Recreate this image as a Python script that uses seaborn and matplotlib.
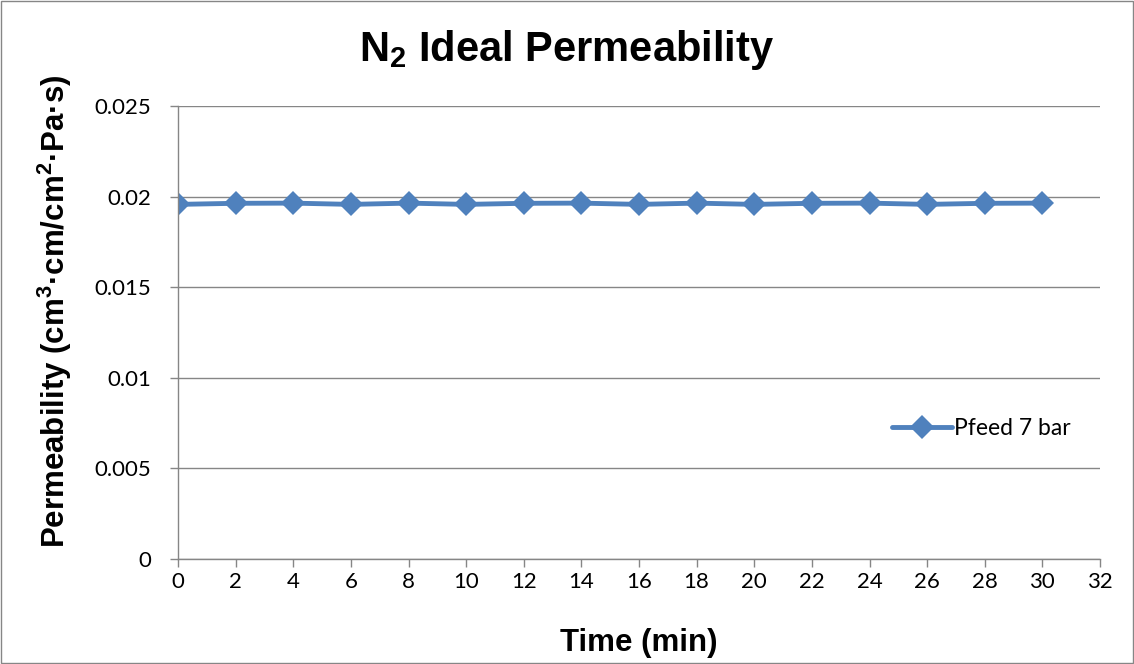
import matplotlib
matplotlib.use("Agg")
import matplotlib.pyplot as plt
import seaborn as sns
import pandas as pd

time_min = [0, 2, 4, 6, 8, 10, 12, 14, 16, 18, 20, 22, 24, 26, 28, 30]
permeability = [0.01957, 0.01963, 0.01964, 0.01957, 0.01964, 0.01957, 0.01963, 0.01964,
                0.01957, 0.01964, 0.01957, 0.01963, 0.01964, 0.01957, 0.01963, 0.01964]
series_name = "Pfeed 7 bar"
x_ticks = list(range(0, 33, 2))
y_ticks = [0, 0.005, 0.01, 0.015, 0.02, 0.025]
y_tick_labels = ["0", "0.005", "0.01", "0.015", "0.02", "0.025"]

df = pd.DataFrame({"Time": time_min, "Permeability": permeability, "Series": series_name})

sns.set_theme(style="white")
plt.rcParams['font.family'] = ['Liberation Sans', 'DejaVu Sans']
plt.rcParams['mathtext.fontset'] = 'custom'
plt.rcParams['mathtext.rm'] = 'Liberation Sans'
plt.rcParams['mathtext.bf'] = 'Liberation Sans:bold'
plt.rcParams['text.color'] = 'black'

fig = plt.figure(figsize=(11.34, 6.64), dpi=100)
ax = fig.add_axes([178/1134, 105/664, (1100-178)/1134, (559-106)/664])

blue = "#4F81BD"
sns.lineplot(data=df, x="Time", y="Permeability", hue="Series", palette=[blue],
             marker="D", markersize=12, linewidth=3.5, markeredgewidth=0, ax=ax)

tick_font = {"family": ["Lato", "DejaVu Sans"], "size": 16}
ax.set_xlim(0, 32)
ax.set_ylim(0, 0.025)
ax.set_xticks(x_ticks)
ax.set_xticklabels([str(t) for t in x_ticks], fontdict=tick_font, color="black")
ax.set_yticks(y_ticks)
ax.set_yticklabels(y_tick_labels, fontdict=tick_font, color="black")
ax.yaxis.grid(True, color="#868686", linewidth=1)
ax.xaxis.grid(False)
for s in ["top", "right"]:
    ax.spines[s].set_visible(False)
for s in ["left", "bottom"]:
    ax.spines[s].set_color("#868686")
    ax.spines[s].set_linewidth(1)
ax.tick_params(axis="both", which="both", direction="out", length=6, width=1, color="#868686",
               bottom=True, left=True)
ax.tick_params(axis="y", pad=13)
ax.tick_params(axis="x", pad=3)

ax.set_xlabel("Time (min)", fontsize=22.5, fontweight="bold", color="black")
ax.xaxis.set_label_coords(0.5, -0.152)
ax.set_ylabel(r"Permeability (cm$^\mathbf{3}$·cm/cm$^\mathbf{2}$·Pa·s)", fontsize=22.5,
              fontweight="bold", color="black")
ax.yaxis.set_label_coords(-0.113, 0.546)
fig.text(0.5, 0.925, r"N$_\mathbf{2}$ Ideal Permeability", fontsize=30, fontweight="bold",
         ha="center", va="center", color="black")

leg = ax.legend(loc="center left", bbox_to_anchor=(0.765, 0.289), frameon=False,
                prop={"family": ["Lato", "DejaVu Sans"], "size": 16.5},
                handlelength=2.6, handletextpad=0.1, borderaxespad=0)

fig.patches.append(plt.Rectangle((0.001, 0.001), 0.998, 0.997, transform=fig.transFigure,
                                 fill=False, edgecolor="#868686", linewidth=1))

fig.savefig("out.png", dpi=100, facecolor="white")
